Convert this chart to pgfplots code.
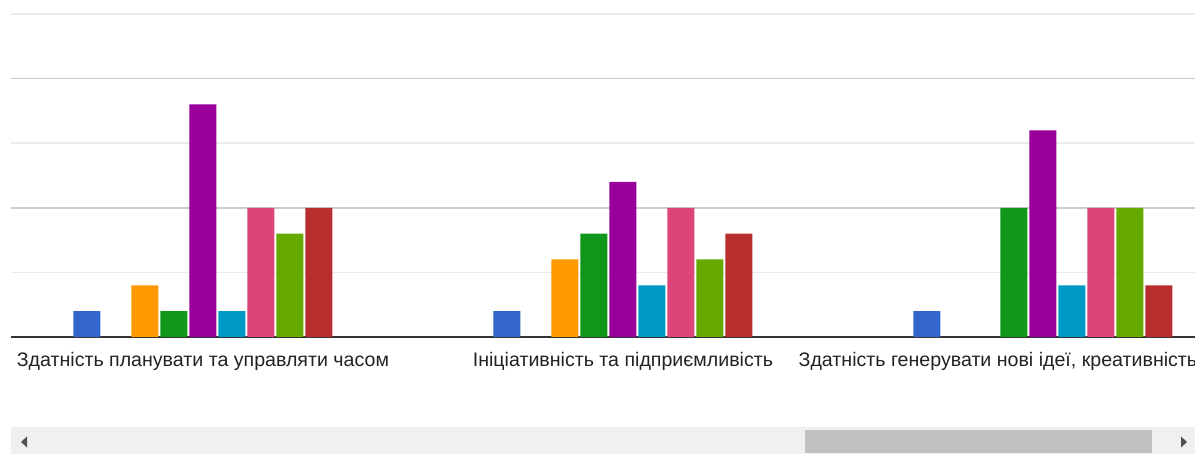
\documentclass[border=0pt]{standalone}
\usepackage{pgfplots}
\pgfplotsset{compat=1.18}
\usepackage{fontspec}
\setmainfont{Liberation Sans}
\definecolor{cBlue}{HTML}{3366CC}
\definecolor{cOrange}{HTML}{FF9900}
\definecolor{cGreen}{HTML}{109618}
\definecolor{cPurple}{HTML}{990099}
\definecolor{cCyan}{HTML}{0099C6}
\definecolor{cPink}{HTML}{DD4477}
\definecolor{cLime}{HTML}{66AA00}
\definecolor{cDRed}{HTML}{B82E2E}
\definecolor{cText}{HTML}{222222}
\definecolor{cGridMaj}{HTML}{CCCCCC}
\definecolor{cGridMin}{HTML}{EBEBEB}
\definecolor{cBase}{HTML}{333333}
\definecolor{cTrack}{HTML}{F0F0F0}
\definecolor{cThumb}{HTML}{C1C1C1}
\definecolor{cArrow}{HTML}{505050}
\begin{document}
\begin{tikzpicture}
\useasboundingbox (0,0) rectangle (597.5pt,227pt);
\clip (0,0) rectangle (597.5pt,227pt);
% scrollbar
\fill[cTrack] (5.5pt,0pt) rectangle (597.5pt,13.5pt);
\fill[cThumb] (402.5pt,0.5pt) rectangle (576pt,12pt);
\fill[cArrow] (10.5pt,6pt) -- (13.5pt,8.75pt) -- (13.5pt,3.25pt) -- cycle;
\fill[cArrow] (593.5pt,6pt) -- (590.5pt,8.75pt) -- (590.5pt,3.25pt) -- cycle;
\begin{axis}[
  at={(5.5pt,58.5pt)}, anchor=south west,
  scale only axis, width=592pt, height=161.5pt,
  xmin=-0.457, xmax=2.362, ymin=0, ymax=12.5,
  axis line style={draw=none},
  ybar, bar width=13.5pt,
  xtick={0,1,2},
  xticklabels={Здатність планувати та управляти часом, Ініціативність та підприємливість, {Здатність генерувати нові ідеї, креативність\hspace*{45pt}}},
  ytick={5,10}, minor ytick={2.5,7.5,12.5},
  yticklabels={},
  ymajorgrids, yminorgrids,
  major grid style={cGridMaj, line width=0.8pt},
  minor grid style={cGridMin, line width=0.8pt},
  extra y ticks={0}, extra y tick labels={},
  extra y tick style={grid=major, major grid style={cBase, line width=1pt}},
  major tick length=0pt, minor tick length=0pt,
  x tick label style={font=\fontsize{9.8}{12}\selectfont, text=cText, anchor=north, yshift=-4pt},
  clip=false,
]
\addplot[fill=cBlue, draw=none, bar shift=-58pt] coordinates {(0,1) (1,1) (2,1)};
\addplot[fill=cOrange, draw=none, bar shift=-29pt] coordinates {(0,2) (1,3)};
\addplot[fill=cGreen, draw=none, bar shift=-14.5pt] coordinates {(0,1) (1,4) (2,5)};
\addplot[fill=cPurple, draw=none, bar shift=0pt] coordinates {(0,9) (1,6) (2,8)};
\addplot[fill=cCyan, draw=none, bar shift=14.5pt] coordinates {(0,1) (1,2) (2,2)};
\addplot[fill=cPink, draw=none, bar shift=29pt] coordinates {(0,5) (1,5) (2,5)};
\addplot[fill=cLime, draw=none, bar shift=43.5pt] coordinates {(0,4) (1,3) (2,5)};
\addplot[fill=cDRed, draw=none, bar shift=58pt] coordinates {(0,5) (1,4) (2,2)};
\end{axis}
\end{tikzpicture}
\end{document}
